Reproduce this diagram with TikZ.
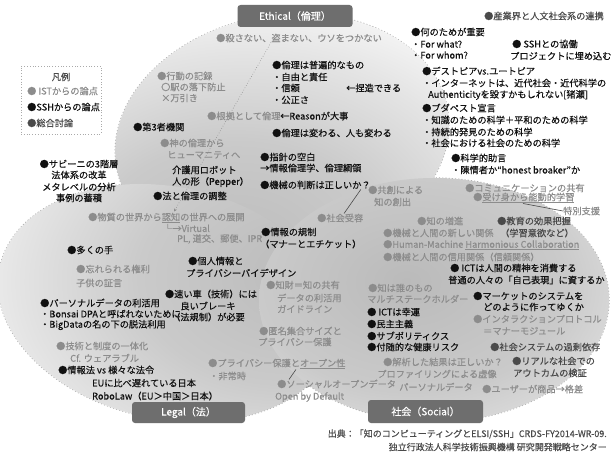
\documentclass[tikz,border=0pt]{standalone}
\usepackage{fontspec}
\setmainfont{Noto Sans CJK JP}[FakeBold=0.35]
\usetikzlibrary{arrows.meta}
\definecolor{gtext}{HTML}{8C8C8C}
\definecolor{dtext}{HTML}{4A4A4A}
\definecolor{btext}{HTML}{111111}
\definecolor{labfill}{HTML}{6E6E6E}
\definecolor{rimcol}{HTML}{AAAAAA}
\definecolor{sA}{HTML}{BABABA}
\definecolor{sB}{HTML}{CACACA}
\definecolor{sC}{HTML}{E4E4E4}
\definecolor{sD}{HTML}{FDFDFD}
\pgfdeclareradialshading{ethshade}{\pgfpoint{-8bp}{-24bp}}{color(0bp)=(sA); color(20bp)=(sB); color(34bp)=(sC); color(46bp)=(sD); color(100bp)=(white)}
\pgfdeclareradialshading{legshade}{\pgfpoint{20bp}{6bp}}{color(0bp)=(sA); color(20bp)=(sB); color(34bp)=(sC); color(46bp)=(sD); color(100bp)=(white)}
\pgfdeclareradialshading{socshade}{\pgfpoint{-4bp}{4bp}}{color(0bp)=(sA); color(22bp)=(sB); color(36bp)=(sC); color(46bp)=(white); color(100bp)=(white)}
\begin{document}
\begin{tikzpicture}[x=1pt,y=-1pt,
  font=\fontsize{9.2}{11}\selectfont,
  t/.style={anchor=west, inner sep=0pt, text=btext},
  g/.style={anchor=west, inner sep=0pt, text=gtext},
  d/.style={anchor=west, inner sep=0pt, text=dtext},
  lab/.style={fill=labfill, rounded corners=3pt, text=white, minimum width=115pt, minimum height=22pt, inner sep=0pt, font=\fontsize{10}{12}\selectfont},
  rim/.style={draw=rimcol, line width=1.2pt, dotted},
  conn/.style={draw=dtext, line width=0.6pt},
  dotarrow/.style={draw=gtext, line width=0.6pt, dotted, -{Stealth[length=3pt,width=3pt]}}]

\useasboundingbox (0,0) rectangle (613,452);
\fill[white] (0,0) rectangle (613,452);

\coordinate (ce) at (282,138);
\coordinate (cl) at (168,303);
\coordinate (cs) at (434,300);

% rims (outer parts stay visible)
\draw[rim, rotate around={10:(ce)}] (ce) ellipse [x radius=168, y radius=123];
\draw[rim, rotate around={-12:(cl)}] (cl) ellipse [x radius=172, y radius=116];
\draw[rim] (cs) ellipse [x radius=175, y radius=122];

% shaded bodies
\shade[shading=ethshade, rotate around={10:(ce)}] (ce) ellipse [x radius=168, y radius=123];
\shade[shading=legshade, rotate around={-12:(cl)}] (cl) ellipse [x radius=172, y radius=116];
\shade[shading=socshade] (cs) ellipse [x radius=175, y radius=122];

% labels
\node[lab] (eth) at (295,16) {Ethical（倫理）};
\node[lab, minimum width=113pt, minimum height=21pt] (leg) at (188.5,412.5) {Legal（法）};
\node[lab, minimum height=23pt] (soc) at (425.5,411.5) {社会（Social）};

% legend
\node[draw=rimcol, dotted, line width=0.8pt, minimum width=80pt, minimum height=68pt, inner sep=0pt] (legend) at (61,100) {};
\node[d, anchor=center] (lg0) at (61,77) {凡例};
\node[g] (lg1) at (27,91) {● ISTからの論点};
\node[t] (lg2) at (27,107) {●SSHからの論点};
\node[d] (lg3) at (27,123) {●総合討論};

% top right
\node[d] (a1) at (484,16) {●産業界と人文社会系の連携};
\node[t] (a2) at (411,32) {●何のためが重要};
\node[t] (a3) at (411,44) {・For what?};
\node[t] (a4) at (411,55) {・For whom?};
\node[t] (a5) at (512,44) {● SSHとの協働};
\node[t] (a6) at (510,56) {プロジェクトに埋め込む};
\node[t] (a7) at (422,71) {●デストピアvs.ユートピア};
\node[t] (a8) at (422,83) {・インターネットは、近代社会・近代科学の};
\node[t] (a9) at (428,95) {Authenticityを毀すかもしれない[猪瀬]};
\node[t] (a10) at (422,108) {●ブダペスト宣言};
\node[t] (a11) at (422,120) {・知識のための科学＋平和のための科学};
\node[t] (a12) at (422,132) {・持続的発見のための科学};
\node[t] (a13) at (422,143) {・社会における社会のための科学};
\node[t] (a14) at (451,158) {●科学的助言};
\node[t] (a15) at (451,170) {・陳情者か“honest broaker”か};

% ethical
\node[g] (e1) at (216,38) {●殺さない、盗まない、ウソをつかない};
\node[t] (e2) at (272,65) {●倫理は普遍的なもの};
\node[t] (e3) at (272,77) {・自由と責任};
\node[t] (e4) at (272,88) {・信頼};
\node[t] (e5) at (272,100) {・公正さ};
\node[t] (e6) at (346,88) {←捏造できる};
\node[g] (e7) at (207,116) {●根拠として倫理};
\node[t] (e8) at (280,116) {←Reasonが大事};
\node[t] (e9) at (272,133) {●倫理は変わる、人も変わる};
\node[g] (e10) at (157,76) {●行動の記録};
\node[g] (e11) at (161,87) {〇駅の落下防止};
\node[g] (e12) at (161,98) {×万引き};
\node[t] (e13) at (133,127) {●第3者機関};
\node[g] (e14) at (160,143) {●神の倫理から};
\node[g] (e15) at (167,155) {ヒューマニティへ};
\node[t] (e16) at (172,170) {介護用ロボット};
\node[t] (e17) at (172,182) {人の形（Pepper）};
\node[t] (e18) at (153,196) {●法と倫理の調整};
\node[t] (e19) at (260,157) {●指針の空白};
\node[t] (e20) at (260,168) {→情報倫理学、倫理綱領};
\node[t] (e21) at (260,185) {●機械の判断は正しいか？};
\node[g] (e22) at (368,190) {●共創による};
\node[g] (e23) at (374,202) {知の創出};

% left
\node[t, anchor=center] (s1) at (79,164) {●サビーニの3階層};
\node[t, anchor=center] (s2) at (79,175) {法体系の改革};
\node[t, anchor=center] (s3) at (79,187) {メタレベルの分析};
\node[t, anchor=center] (s4) at (79,198) {事例の蓄積};

% legal
\node[g] (l1) at (88,218) {●物質の世界から\underline{認知}の世界への展開};
\node[g] (l2) at (163,228) {└→Virtual};
\node[g] (l3) at (177,239) {PL, 道交、郵便、IPR};
\node[t] (l4) at (67,250) {●多くの手};
\node[g] (l5) at (76,269) {●忘れられる権利};
\node[g] (l6) at (76,283) {子供の証言};
\node[t] (l7) at (188,261) {●個人情報と};
\node[t] (l8) at (186,273) {プライバシーバイデザイン};
\node[t, anchor=center] (l9) at (211,294) {●速い車（技術）には};
\node[t, anchor=center] (l10) at (208,306) {良いブレーキ};
\node[t, anchor=center] (l11) at (208,317) {（法規制）が必要};
\node[t] (l12) at (40,303) {●パーソナルデータの利活用};
\node[t] (l13) at (40,314) {・Bonsai DPAと呼ばれないために};
\node[t] (l14) at (40,325) {・BigDataの名の下の脱法利用};
\node[g] (l15) at (56,346) {●技術と制度の一体化};
\node[g] (l16) at (70,358) {Cf. ウェアラブル};
\node[t] (l17) at (58,370) {●情報法 vs 様々な法令};
\node[t] (l18) at (92,383) {EUに比べ遅れている日本};
\node[t] (l19) at (92,396) {RoboLaw（EU＞中国＞日本）};
\node[t] (l20) at (261,232) {●情報の規制};
\node[t] (l21) at (260,244) {（マナーとエチケット）};
\node[g] (l22) at (266,285) {●知財＝知の共有};
\node[g] (l23) at (277,298) {データの利活用};
\node[g] (l24) at (277,309) {ガイドライン};
\node[g] (l25) at (259,331) {●匿名集合サイズと};
\node[g] (l26) at (258,342) {プライバシー保護};
\node[g] (l27) at (208,364) {●プライバシー保護と\underline{オープン性}};
\node[g] (l28) at (209,376) {・非常時};
\node[g] (l29) at (277,384) {●ソーシャルオープンデータ};
\node[g] (l30) at (275,397) {Open by Default};

% social
\node[g] (c1) at (317,218) {●社会受容};
\node[g] (c2) at (417,221) {●知の増進};
\node[g] (c3) at (383,233) {●機械と人間の新しい関係};
\node[g] (c4) at (383,245) {●Human-Machine \underline{Harmonious Collaboration}};
\node[g] (c5) at (383,257) {●機械と人間の信用関係（信頼関係）};
\node[g] (c6) at (465,188) {●コミュニケーションの共有};
\node[g] (c7) at (473,198) {●\underline{受け身から能動的学習}};
\node[g] (c8) at (563,211) {特別支援};
\node[d] (c9) at (497,221) {●教育の効果把握};
\node[d] (c10) at (500,233) {（学習意欲など）};
\node[t] (c11) at (450,268) {● ICTは人間の精神を消費する};
\node[t] (c12) at (448,280) {普通の人々の「自己表現」に資するか};
\node[g] (c13) at (368,288) {●知は誰のもの};
\node[g] (c14) at (367,299) {マルチステークホルダー};
\node[t] (c15) at (367,312) {● ICTは幸運};
\node[t] (c16) at (367,324) {●民主主義};
\node[t] (c17) at (367,336) {●サブポリティクス};
\node[t] (c18) at (367,347) {●付随的な健康リスク};
\node[t] (c19) at (473,296) {●マーケットのシステムを};
\node[t] (c20) at (483,307) {どのように作ってゆくか};
\node[g] (c21) at (473,319) {●インタラクションプロトコル};
\node[g] (c22) at (483,331) {＝マナーモジュール};
\node[d] (c23) at (490,347) {●社会システムの過剰依存};
\node[g, anchor=center] (c24) at (443,362) {●解析した結果は正しいか？};
\node[g, anchor=center] (c25) at (437,374) {プロファイリングによる虚像};
\node[g, anchor=center] (c26) at (436,387) {パーソナルデータ};
\node[d] (c27) at (512,361) {●リアルな社会での};
\node[d] (c28) at (513,373) {アウトカムの検証};
\node[g] (c29) at (482,389) {●ユーザーが商品→格差};

% connectors
\draw[conn] ([xshift=-10pt]e21.south east) -- ([xshift=27pt]c1.north west);
\draw[conn] ([xshift=50pt]c7.south west) -- (c8.west);
\draw[conn] ([xshift=88pt]l27.south west) -- ([xshift=12pt]l29.north west);
\draw[dotarrow] ([xshift=55pt]e1.south west) -- ([xshift=86pt,yshift=1pt]l1.north west);

% footer
\node[t, anchor=east, text=dtext, font=\fontsize{9}{11}\selectfont] (f1) at (607,434) {出典：「知のコンピューティングとELSI/SSH」CRDS-FY2014-WR-09.};
\node[t, anchor=east, text=dtext, font=\fontsize{9}{11}\selectfont] (f2) at (607,447) {独立行政法人科学技術振興機構 研究開発戦略センター};
\end{tikzpicture}
\end{document}
